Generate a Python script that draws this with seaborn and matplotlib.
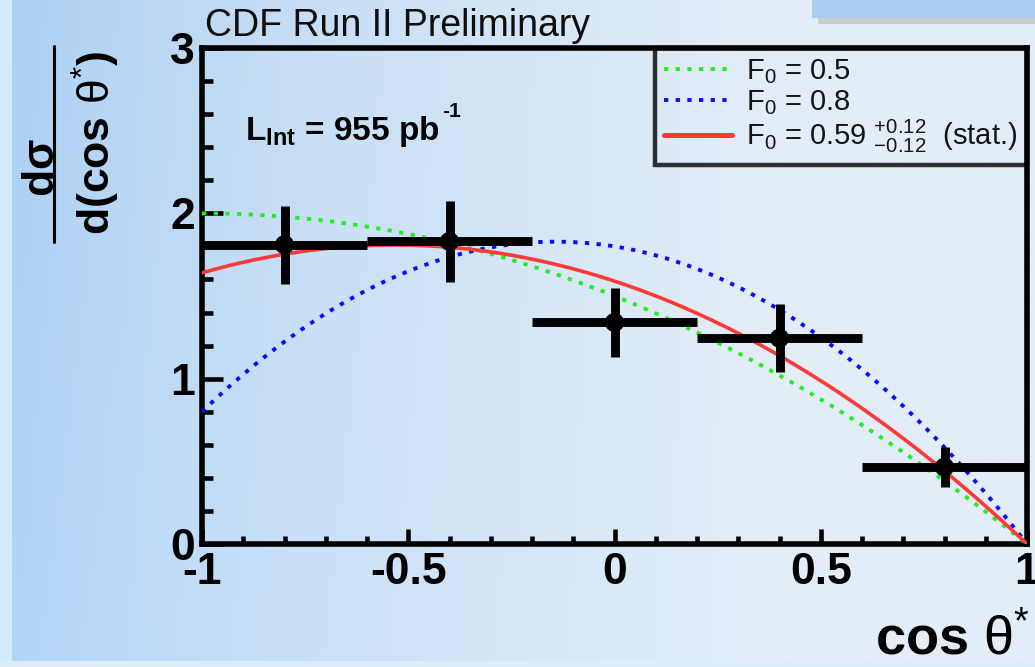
import numpy as np
import pandas as pd
import matplotlib
matplotlib.use("Agg")
import matplotlib.pyplot as plt
from matplotlib.ticker import MultipleLocator, FixedLocator
from matplotlib.lines import Line2D
from matplotlib.patches import Rectangle
import seaborn as sns

# ---- measured differential distribution (5 bins in cos theta*) ----
bin_centers = [-0.8, -0.4, 0.0, 0.4, 0.8]
bin_half_width = [0.2, 0.2, 0.2, 0.2, 0.2]
dsigma = [1.81, 1.83, 1.34, 1.245, 0.465]
dsigma_err = [0.235, 0.245, 0.21, 0.205, 0.12]

# ---- longitudinal helicity fractions of the model curves ----
f0_values = [0.5, 0.8, 0.59]
curve_colors = ["#22ee22", "#0a0aff", "#ff3838"]
curve_labels = [
    r"$\mathrm{F_0}$ = 0.5",
    r"$\mathrm{F_0}$ = 0.8",
    r"$\mathrm{F_0}$ = 0.59 $\mathrm{{}^{+0.12}_{-0.12}}$  (stat.)",
]

x_ticks = [-1, -0.5, 0, 0.5, 1]
x_ticklabels = ["-1", "-0.5", "0", "0.5", "1"]
y_ticks = [0, 1, 2, 3]
y_ticklabels = ["0", "1", "2", "3"]


def helicity_shape(cos_t, f0):
    """W helicity angular distribution with F+ = 0, scaled to the plot units."""
    return 2.0 * f0 * (1 - cos_t ** 2) + (1 - f0) * (1 - cos_t) ** 2


sns.set_style("ticks")
plt.rcParams["font.family"] = ["Liberation Sans", "DejaVu Sans"]
plt.rcParams["mathtext.fontset"] = "custom"
plt.rcParams["mathtext.rm"] = "Liberation Sans"
plt.rcParams["mathtext.it"] = "Liberation Sans:italic"
plt.rcParams["mathtext.bf"] = "Liberation Sans:bold"
for key in ["text.color", "xtick.color", "ytick.color", "axes.labelcolor", "axes.edgecolor"]:
    plt.rcParams[key] = "black"

W, H = 1035, 667
fig = plt.figure(figsize=(W / 100, H / 100), dpi=100)

# ---- slide-like blue background ----
bg = fig.add_axes([0, 0, 1, 1], zorder=-10)
bg.set_axis_off()
xx = np.linspace(0, 1, 400)
yy = np.linspace(0, 1, 260)
X, Y = np.meshgrid(xx, yy)
t = np.clip((X - 0.01) / 0.72, 0, 1) ** 0.75
left_col = np.array([176, 212, 248]) / 255
right_col = np.array([226, 237, 247]) / 255
img = left_col[None, None, :] * (1 - t[..., None]) + right_col[None, None, :] * t[..., None]
img = img - 0.02 * (1 - Y[..., None]) * (1 - t[..., None])
bg.imshow(np.clip(img, 0, 1), extent=[0, 1, 0, 1], aspect="auto", origin="upper")
bg.set_xlim(0, 1)
bg.set_ylim(0, 1)
# outer frame strips
bg.add_patch(Rectangle((0, 0), 12 / W, 1, color="#d3e9fd", lw=0))
bg.add_patch(Rectangle((0, 0), 1, 6 / H, color="#dbecfb", lw=0))
bg.add_patch(Rectangle((818 / W, 1 - 24 / H), 1, 6 / H, color="#c9ced3", lw=0))
bg.add_patch(Rectangle((812 / W, 1 - 18 / H), 1, 18 / H, color="#a9cdf0", lw=0))

# ---- main axes ----
ax = fig.add_axes([202 / W, 123 / H, 825 / W, 496 / H])
ax.set_facecolor("none")

xs = np.linspace(-1, 1, 400)
for f0, col, lab in zip(f0_values, curve_colors, curve_labels):
    df = pd.DataFrame({"cos": xs, "val": helicity_shape(xs, f0)})
    fitted = f0 == f0_values[-1]
    sns.lineplot(data=df, x="cos", y="val", ax=ax, color=col,
                 linestyle="-" if fitted else (0, (1.1, 1.9)),
                 linewidth=2.6 if fitted else 2.8, label=lab, zorder=3)

ax.errorbar(bin_centers, dsigma, xerr=bin_half_width, yerr=dsigma_err,
            fmt="none", ecolor="black", elinewidth=6.4, capsize=0, zorder=5)
sns.scatterplot(x=bin_centers, y=dsigma, ax=ax, color="black", s=190,
                edgecolor="none", zorder=6, legend=False)

ax.set_xlim(-1, 1)
ax.set_ylim(0, 3)
ax.set_xlabel("")
ax.set_ylabel("")
ax.xaxis.set_major_locator(FixedLocator(x_ticks))
ax.set_xticklabels(x_ticklabels)
ax.yaxis.set_major_locator(FixedLocator(y_ticks))
ax.set_yticklabels(y_ticklabels)
ax.xaxis.set_minor_locator(MultipleLocator(0.1))
ax.yaxis.set_minor_locator(MultipleLocator(0.2))
for s in ax.spines.values():
    s.set_linewidth(4.0)
    s.set_color("black")
    s.set_visible(True)
ax.tick_params(axis="both", which="both", direction="in", top=False, right=False,
               width=3.3, color="black", labelcolor="black")
ax.tick_params(axis="x", which="major", length=11, pad=6, labelsize=32)
ax.tick_params(axis="x", which="minor", length=6)
ax.tick_params(axis="y", which="major", length=15, pad=5, labelsize=32)
ax.tick_params(axis="y", which="minor", length=8)
for lbl in ax.get_xticklabels() + ax.get_yticklabels():
    lbl.set_fontweight("bold")

leg = ax.legend(loc="upper right", borderaxespad=0, frameon=True, fancybox=False,
                fontsize=21, handlelength=2.3, handletextpad=0.5,
                labelspacing=0.05, borderpad=0.33)
leg.get_frame().set_edgecolor("black")
leg.get_frame().set_linewidth(3.2)
leg.get_frame().set_facecolor("none")
for txt in leg.get_texts():
    txt.set_color("#151515")
for h in leg.get_lines():
    if h.get_color() == curve_colors[-1]:
        h.set_linewidth(3.6)

# ---- annotations ----
fig.text(205 / W, 1 - 36 / H, "CDF Run II Preliminary", fontsize=27,
         color="#0d0d0d", va="baseline", ha="left")
lum = fig.text(245 / W, 1 - 140 / H, r"L$_{\mathbf{Int}}$ = 955 pb",
               fontsize=24, fontweight="bold", va="baseline", ha="left")
fig.canvas.draw()
lum_box = lum.get_window_extent()
fig.text((lum_box.x1 + 3) / W, 1 - 117 / H, "-1", fontsize=15,
         fontweight="bold", va="baseline", ha="left")

# x axis title
fig.text(1030 / W, 1 - 654 / H, r"cos $\mathrm{\theta}^{*}$", fontsize=39,
         fontweight="bold", ha="right", va="baseline")

# y axis title as a rotated fraction
fig.text(43 / W, 1 - 168 / H, r"d$\mathbf{\sigma}$", fontsize=32, fontweight="bold",
         rotation=90, ha="center", va="center")
fig.add_artist(Line2D([54 / W, 54 / W], [1 - 242 / H, 1 - 46 / H],
                      transform=fig.transFigure, color="black", lw=2.2))
fig.text(96 / W, 1 - 143 / H, r"d(cos $\mathrm{\theta}^{*}$)", fontsize=32,
         fontweight="bold", rotation=90, ha="center", va="center")

fig.savefig("out.png", dpi=100)
